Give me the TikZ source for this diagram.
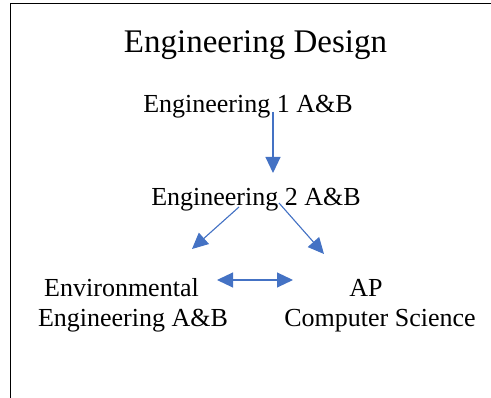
\documentclass[tikz,border=0pt]{standalone}
\usepackage{fontspec}
\setmainfont{Liberation Serif}
\usepackage{xcolor}
\usepackage{tikz}
\usetikzlibrary{positioning, arrows.meta}
\definecolor{flowblue}{HTML}{4472C4}

\begin{document}
\begin{tikzpicture}[x=1pt, y=1pt, >={Triangle[length=16pt, width=15pt]},
    course/.style={inner sep=0pt, align=center, font=\fontsize{26}{30}\selectfont},
    flow/.style={draw=flowblue, fill=flowblue, line width=1.1pt}]
    \useasboundingbox (0,0) rectangle (491,-398);
    % Frame
    \draw[line width=1.2pt] (491,-3.5) -- (10.5,-3.5) -- (10.5,-398);

    % Nodes
    \node[course, font=\fontsize{33}{38}\selectfont, anchor=base] (design) at (255.5,-53) {Engineering Design};
    \node[course, below=60pt of design.base, xshift=-7.5pt, anchor=base] (eng1) {Engineering 1 A\&B};
    \node[course, below=93pt of eng1.base, xshift=8pt, anchor=base] (eng2) {Engineering 2 A\&B};
    \node[course, below=121pt of eng2.base, xshift=-123pt, anchor=base] (env) {Environmental\hspace*{23pt}\\Engineering A\&B};
    \node[course, right=247pt of env.base, anchor=base] (apcs) {AP\hspace*{28pt}\\Computer Science};

    % Connections
    \draw[flow, ->] ([xshift=25pt, yshift=1pt]eng1.base) -- ([xshift=17pt, yshift=33pt]eng2.base);
    \draw[flow, ->] ([xshift=-17pt, yshift=-1pt]eng2.base) -- ([xshift=59pt, yshift=78pt]env.base);
    \draw[flow, ->] ([xshift=23pt, yshift=3pt]eng2.base) -- ([xshift=-56pt, yshift=73pt]apcs.base);
    \draw[flow, <->] ([xshift=84pt, yshift=47pt]env.base) -- ([xshift=-87pt, yshift=47pt]apcs.base);
\end{tikzpicture}
\end{document}
